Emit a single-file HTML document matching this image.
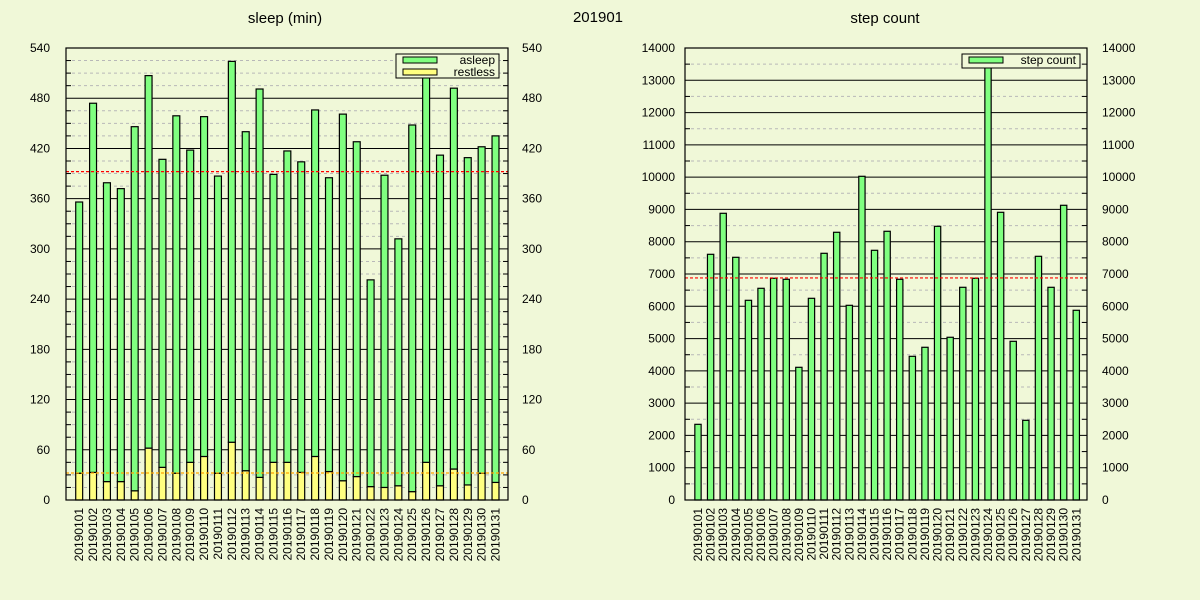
<!DOCTYPE html>
<html><head><meta charset="utf-8"><style>
html,body{margin:0;padding:0;background:#f0f8d8;}
svg{display:block;font-family:"Liberation Sans",Arial,sans-serif;}
</style></head><body>
<svg id="c" width="1200" height="600" xmlns="http://www.w3.org/2000/svg">
<rect width="1200" height="600" fill="#f0f8d8"/>
<text x="285" y="23" font-size="15" text-anchor="middle">sleep (min)</text>
<text x="598" y="22" font-size="15" text-anchor="middle">201901</text>
<text x="885" y="23" font-size="15" text-anchor="middle">step count</text>
</svg>
<script>
const dates = ["20190101","20190102","20190103","20190104","20190105","20190106","20190107","20190108","20190109","20190110","20190111","20190112","20190113","20190114","20190115","20190116","20190117","20190118","20190119","20190120","20190121","20190122","20190123","20190124","20190125","20190126","20190127","20190128","20190129","20190130","20190131"];
const restless = [32,33,22,22,11,62,39,32,45,52,32,69,35,27,45,45,33,52,34,23,28,16,15,17,10,45,17,37,18,32,21];
const asleep = [324,441,357,350,435,445,368,427,373,406,355,455,405,464,344,372,371,414,351,438,400,247,373,295,438,468,395,455,391,390,414];
const steps = [2344,7610,8880,7517,6185,6557,6867,6836,4110,6247,7641,8292,6030,10026,7734,8323,6836,4450,4730,8477,5040,6588,6867,13588,8911,4915,2468,7548,6588,9128,5876];
const sleepTicks = [0,60,120,180,240,300,360,420,480,540];
const stepTicks = [0,1000,2000,3000,4000,5000,6000,7000,8000,9000,10000,11000,12000,13000,14000];

const svg = document.getElementById('c');
const NS = 'http://www.w3.org/2000/svg';
function mk(tag, attrs, parent){ const e=document.createElementNS(NS,tag); for(const k in attrs) e.setAttribute(k,attrs[k]); (parent||svg).appendChild(e); return e; }
const mean = a => a.reduce((s,v)=>s+v,0)/a.length;

function drawChart(o){
  const g = mk('g',{});
  
  
  const X = i => o.x0 + (i - o.xmin)/(o.xmax - o.xmin)*(o.x1 - o.x0);
  const Y = v => o.y1 - v/o.ymax*(o.y1 - o.y0);
  for(let v=o.minor; v<o.ymax; v+=o.minor){
    if(Math.abs(v/o.major - Math.round(v/o.major))<1e-6) continue;
    const l = mk('line',{x1:o.x0,x2:o.x1,y1:Y(v),y2:Y(v),stroke:'#b8b8b8','stroke-dasharray':'3,3','stroke-width':1},g);
    
    
    mk('line',{x1:o.x0,x2:o.x0+5,y1:Y(v),y2:Y(v),stroke:'#000'},g);
    mk('line',{x1:o.x1-5,x2:o.x1,y1:Y(v),y2:Y(v),stroke:'#000'},g);
  }
  o.ticks.forEach(v=>{
    const l = mk('line',{x1:o.x0,x2:o.x1,y1:Y(v),y2:Y(v),stroke:'#000','stroke-width':1},g);
    
    
    const t1 = mk('text',{x:o.x0-o.lpad,y:Y(v)+4,'font-size':12,'text-anchor':'end'},g);
    t1.textContent = v;
    
    
    const t2 = mk('text',{x:o.x1+o.rpad,y:Y(v)+4,'font-size':12,'text-anchor':'start'},g);
    t2.textContent = v;
    
    
  });
  const bw = (o.x1-o.x0)/(o.xmax-o.xmin)*0.5;
  for(let i=0;i<dates.length;i++){
    let base = 0;
    o.series.forEach(s=>{
      const v = s.data[i];
      const r = mk('rect',{x:X(i)-bw/2,y:Y(base+v),width:bw,height:Y(base)-Y(base+v),fill:s.color,stroke:'#000','stroke-width':1.2},g);
      
      
      base += v;
    });
    const t = mk('text',{transform:`translate(${X(i)+4},${o.y1+8}) rotate(-90)`,'font-size':12,'text-anchor':'end'},g);
    t.textContent = dates[i];
    
    
  }
  o.series.forEach(s=>{
    const m = Y(mean(s.data));
    const l = mk('line',{x1:o.x0,x2:o.x1,y1:m,y2:m,stroke:s.avg,'stroke-dasharray':'3,2','stroke-width':1.2},g);
    
    
  });
  const f = mk('rect',{x:o.x0,y:o.y0,width:o.x1-o.x0,height:o.y1-o.y0,fill:'none',stroke:'#000','stroke-width':1.2},g);
  
  
  const lg = mk('g',{},g);
  
  
  const L = o.legend;
  mk('rect',{x:L.x,y:L.y,width:L.w,height:12*o.legendItems.length+ (o.legendItems.length>1?0:2),fill:'#f0f8d8',stroke:'#000'},lg);
  o.legendItems.forEach((it,k)=>{
    const yy = L.y + 6 + k*12;
    mk('rect',{x:L.x+7,y:yy-3,width:34,height:6,fill:it.color,stroke:'#000'},lg);
    const t = mk('text',{x:L.x+L.w-4,y:yy+4,'font-size':12,'text-anchor':'end'},lg);
    t.textContent = it.label;
    
    
  });
}

drawChart({name:'sleep-chart',x0:66,x1:508,y0:48,y1:500,xmin:-0.95,xmax:30.9,ymax:540,major:60,minor:15,ticks:sleepTicks,lpad:16,rpad:14,
  series:[{key:'restless',data:restless,color:'#ffff80',avg:'#ffa500'},{key:'asleep',data:asleep,color:'#80ff80',avg:'#ff0000'}],
  legend:{x:396,y:54,w:103},
  legendItems:[{label:'asleep',color:'#80ff80'},{label:'restless',color:'#ffff80'}]});

drawChart({name:'step-chart',x0:685,x1:1087,y0:48,y1:500,xmin:-1.03,xmax:30.85,ymax:14000,major:1000,minor:500,ticks:stepTicks,lpad:10,rpad:15,
  series:[{key:'steps',data:steps,color:'#80ff80',avg:'#ff0000'}],
  legend:{x:962,y:54,w:118},
  legendItems:[{label:'step count',color:'#80ff80'}]});
</script>
</body></html>
